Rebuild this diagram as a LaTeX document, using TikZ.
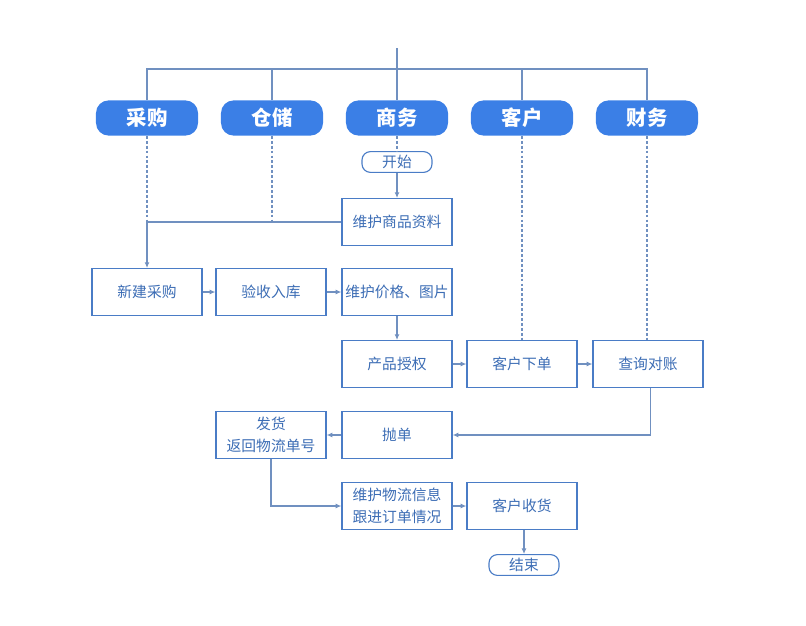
\documentclass[tikz,border=0pt]{standalone}
\usepackage{fontspec}
\setmainfont{Noto Sans CJK SC}
\usetikzlibrary{arrows.meta}
\definecolor{hdblue}{HTML}{3B7FE6}
\definecolor{bxblue}{HTML}{4A7CC6}
\definecolor{txblue}{HTML}{3C6DB5}
\definecolor{lnblue}{HTML}{7090C0}
\tikzset{
  header/.style={fill=hdblue, rounded corners=9pt, minimum width=2.55cm,
    minimum height=0.88cm, text=white, font=\fontsize{14.5}{16}\selectfont\bfseries},
  box/.style={draw=bxblue, line width=0.9pt, fill=white, minimum width=2.75cm,
    minimum height=1.17cm, text=txblue, align=center, inner sep=1pt,
    font=\fontsize{10.5}{15.5}\selectfont},
  terminal/.style={draw=bxblue, line width=0.8pt, rounded corners=6pt,
    minimum width=1.75cm, minimum height=0.52cm, text=txblue, inner sep=1pt,
    font=\fontsize{10.5}{12}\selectfont},
  line/.style={draw=lnblue, line width=0.75pt},
  dashline/.style={line, dashed, dash pattern=on 2pt off 1.5pt},
  arrow/.style={line, -{Latex[length=4pt,width=3.5pt]}}
}

\begin{document}
\begin{tikzpicture}[x=0.025cm, y=-0.025cm]
  \useasboundingbox (0,0) rectangle (806,625);

  % lanes
  \node[header] (cg) at (147,118) {采购};
  \node[header] (cc) at (272,118) {仓储};
  \node[header] (sw) at (397,118) {商务};
  \node[header] (kh) at (522,118) {客户};
  \node[header] (cw) at (647,118) {财务};

  \coordinate (top) at (397,48);
  \coordinate (bus) at (397,69);
  \draw[line] (top) -- (sw.north);
  \draw[line] (cg.north) |- (bus) -| (cw.north);
  \draw[line] (cc.north) -- (cc.north |- bus);
  \draw[line] (kh.north) -- (kh.north |- bus);

  % steps
  \node[terminal] (start) at (397,162) {开始};
  \node[box] (wzzl) at (397,222) {维护商品资料};
  \node[box] (xjcg) at (147,292) {新建采购};
  \node[box] (ysrk) at (271,292) {验收入库};
  \node[box] (wzjg) at (397,292) {维护价格、图片};
  \node[box] (cpsq) at (397,364) {产品授权};
  \node[box] (khxd) at (522,364) {客户下单};
  \node[box] (cxdz) at (648,364) {查询对账};
  \node[box] (fh) at (271,435) {发货\\返回物流单号};
  \node[box] (pd) at (397,435) {抛单};
  \node[box] (wzwl) at (397,506) {维护物流信息\\跟进订单情况};
  \node[box] (khsh) at (522,506) {客户收货};
  \node[terminal] (stop) at (524,565) {结束};

  \coordinate (j1) at (cg.south |- wzzl.west);
  \coordinate (j2) at (cc.south |- wzzl.west);
  \coordinate (j3) at ([xshift=2]cxdz.south |- pd.east);
  \coordinate (j4) at (fh.south |- wzwl.west);

  \draw[dashline] (sw) -- (start);
  \draw[arrow] (start) -- (wzzl);
  \draw[dashline] (cg) -- (j1);
  \draw[dashline] (cc) -- (j2);
  \draw[line] (wzzl.west) -- (j1);
  \draw[arrow] (j1) -- (xjcg);
  \draw[arrow] (xjcg) -- (ysrk);
  \draw[arrow] (ysrk) -- (wzjg);
  \draw[arrow] (wzjg) -- (cpsq);
  \draw[dashline] (kh) -- (khxd);
  \draw[dashline] (cw) -- (cxdz.north -| cw);
  \draw[arrow] (cpsq) -- (khxd);
  \draw[arrow] (khxd) -- (cxdz);
  \draw[arrow] (cxdz.south -| j3) -- (j3) -- (pd.east);
  \draw[arrow] (pd) -- (fh);
  \draw[arrow] (fh.south) -- (j4) -- (wzwl.west);
  \draw[arrow] (wzwl) -- (khsh);
  \draw[arrow] (khsh.south -| stop) -- (stop);
\end{tikzpicture}
\end{document}
